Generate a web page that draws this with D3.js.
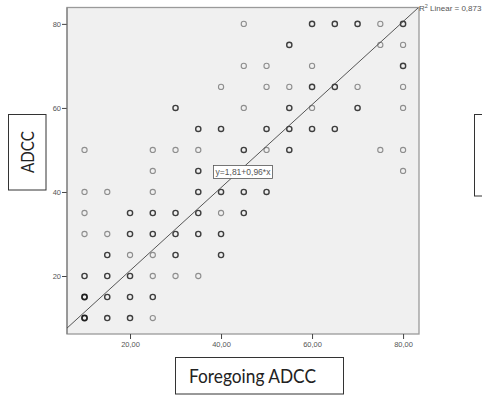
<!DOCTYPE html>
<html>
<head>
<meta charset="utf-8">
<script src="https://cdn.jsdelivr.net/npm/d3@7"></script>
<style>
  html, body { margin: 0; padding: 0; background: #fff; }
  svg { display: block; }
</style>
</head>
<body>
<svg id="chart" width="482" height="397"></svg>
<script>
// ---- data ----
const foregoingADCC = [
  45,60,65,70,75,80,
  55,75,80,
  45,50,60,80,
  40,50,55,60,65,70,80,
  30,45,55,60,70,80,
  35,40,50,55,60,65,
  10,25,30,35,45,50,55,75,80,
  25,35,80,
  10,15,25,35,40,45,50,
  10,20,25,30,35,40,45,
  10,15,20,25,30,35,40,
  15,20,25,30,40,
  10,15,20,25,30,35,
  10,15,20,25,
  10,15,20,25
];
const adcc = [
  80,80,80,80,80,80,
  75,75,75,
  70,70,70,70,
  65,65,65,65,65,65,65,
  60,60,60,60,60,60,
  55,55,55,55,55,55,
  50,50,50,50,50,50,50,50,50,
  45,45,45,
  40,40,40,40,40,40,40,
  35,35,35,35,35,35,35,
  30,30,30,30,30,30,30,
  25,25,25,25,25,
  20,20,20,20,20,20,
  15,15,15,15,
  10,10,10,10
];
// overlap darkness (1 = single case, 2 = several, 3 = many)
const overlap = [
  1,2,2,2,1,2,
  2,1,1,
  1,1,1,2,
  1,1,1,2,2,1,1,
  2,1,2,1,2,1,
  2,2,2,2,2,2,
  1,1,1,1,2,1,2,1,1,
  1,2,1,
  1,1,1,2,2,2,2,
  1,2,2,2,2,1,2,
  1,1,2,2,2,2,2,
  2,1,1,2,2,
  2,2,2,1,1,1,
  3,2,2,2,
  3,2,2,1
];
const xTicks = [20, 40, 60, 80];
const yTicks = [20, 40, 60, 80];
const fitLabel = "y=1,81+0,96*x";
const r2Label = "Linear = 0,873";
// fit line as drawn (end points in data units)
const fitLineX = [6.15, 83.3];
const fitLineY = [7.6, 83.8];
const xTitle = "Foregoing ADCC";
const yTitle = "ADCC";

// ---- drawing ----
const svg = d3.select("#chart");
const pL = 67, pR = 419, pT = 7.5, pB = 334;

const x = d3.scaleLinear().domain([6.15, 83.5]).range([pL, pR]);
const y = d3.scaleLinear().domain([6.2, 83.9]).range([pB, pT]);

// plot background
svg.append("rect")
  .attr("x", pL).attr("y", pT)
  .attr("width", pR - pL).attr("height", pB - pT)
  .attr("fill", "#f0f0f0")
  .attr("stroke", "#9a9a9a").attr("stroke-width", 1.3);

// axes
const xAxis = d3.axisBottom(x).tickValues(xTicks).tickSize(5).tickSizeOuter(0).tickPadding(3)
  .tickFormat(d => d3.format(".2f")(d).replace(".", ","));
const gx = svg.append("g").attr("transform", `translate(0,${pB})`).call(xAxis);
gx.select(".domain").remove();
gx.selectAll("line").attr("stroke", "#444");
gx.selectAll("text").attr("fill", "#555").attr("font-size", "7.5px")
  .attr("font-family", "Liberation Sans, Arial, sans-serif");

const yAxis = d3.axisLeft(y).tickValues(yTicks).tickSize(5).tickSizeOuter(0).tickPadding(1)
  .tickFormat(d3.format("d"));
const gy = svg.append("g").attr("transform", `translate(${pL},0)`).call(yAxis);
gy.select(".domain").remove();
gy.selectAll("line").attr("stroke", "#444");
gy.selectAll("text").attr("fill", "#555").attr("font-size", "7.5px")
  .attr("font-family", "Liberation Sans, Arial, sans-serif");

// left frame line slightly darker
svg.append("line").attr("x1", pL).attr("x2", pL).attr("y1", pT).attr("y2", pB)
  .attr("stroke", "#777").attr("stroke-width", 1);

// points
const pts = foregoingADCC.map((v, i) => ({x: v, y: adcc[i], w: overlap[i]}));
const colorFor = w => w === 1 ? "#8e8e8e" : (w === 2 ? "#3e3e3e" : "#1e1e1e");
const widthFor = w => w === 1 ? 1.1 : (w === 2 ? 1.4 : 1.7);
svg.append("g").selectAll("circle").data(pts).join("circle")
  .attr("cx", d => x(d.x)).attr("cy", d => y(d.y)).attr("r", 2.6)
  .attr("fill", "none")
  .attr("stroke", d => colorFor(d.w))
  .attr("stroke-width", d => widthFor(d.w));

// fit line
svg.append("line")
  .attr("x1", x(fitLineX[0])).attr("y1", y(fitLineY[0]))
  .attr("x2", x(fitLineX[1])).attr("y2", y(fitLineY[1]))
  .attr("stroke", "#444").attr("stroke-width", 0.9);

// fit label box
const lbl = svg.append("g");
lbl.append("rect").attr("x", 213.5).attr("y", 165.5).attr("width", 59).attr("height", 13)
  .attr("fill", "#fff").attr("stroke", "#555").attr("stroke-width", 0.8);
lbl.append("text").attr("x", 243).attr("y", 175.3).attr("text-anchor", "middle")
  .attr("font-family", "Liberation Sans, Arial, sans-serif").attr("font-size", "8.5px")
  .attr("fill", "#555").text(fitLabel);

// R2 label
const r2 = svg.append("text").attr("x", 419).attr("y", 10.5)
  .attr("font-family", "Liberation Sans, Arial, sans-serif").attr("font-size", "8px")
  .attr("fill", "#555");
r2.append("tspan").text("R");
r2.append("tspan").attr("dy", -3).attr("font-size", "5.5px").text("2");
r2.append("tspan").attr("dy", 3).text(" " + r2Label);

// axis title boxes
svg.append("rect").attr("x", 8.5).attr("y", 114.5).attr("width", 37.5).attr("height", 75.5)
  .attr("fill", "#fff").attr("stroke", "#333").attr("stroke-width", 1);
svg.append("text").attr("transform", "translate(33.5,152) rotate(-90)")
  .attr("text-anchor", "middle")
  .attr("font-family", "Lato, 'Open Sans', sans-serif").attr("font-size", "17px")
  .attr("fill", "#222").attr("textLength", 42).attr("lengthAdjust", "spacingAndGlyphs")
  .text(yTitle);

svg.append("rect").attr("x", 175.5).attr("y", 357.5).attr("width", 168).attr("height", 36.5)
  .attr("fill", "#fff").attr("stroke", "#333").attr("stroke-width", 1);
svg.append("text").attr("x", 189).attr("y", 383)
  .attr("font-family", "Lato, 'Open Sans', sans-serif").attr("font-size", "20px")
  .attr("fill", "#222").attr("textLength", 127).attr("lengthAdjust", "spacingAndGlyphs")
  .text(xTitle);

// partially visible box at right edge
svg.append("rect").attr("x", 474.5).attr("y", 114.5).attr("width", 20).attr("height", 81.5)
  .attr("fill", "#fff").attr("stroke", "#333").attr("stroke-width", 1);
</script>
</body>
</html>
